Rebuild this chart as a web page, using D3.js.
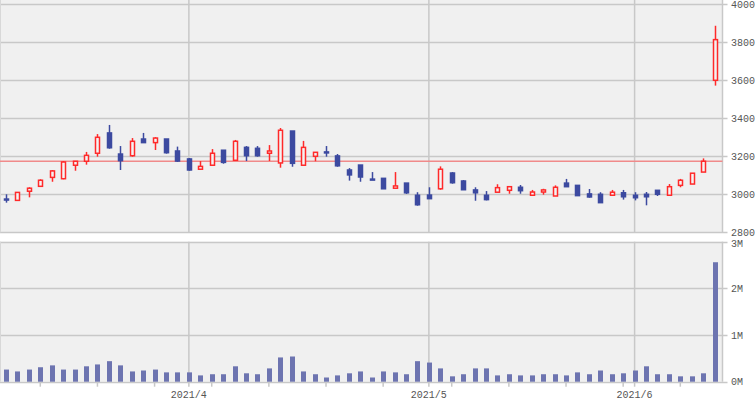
<!DOCTYPE html>
<html><head><meta charset="utf-8">
<script src="https://cdn.jsdelivr.net/npm/d3@7"></script>
<style>html,body{margin:0;padding:0;background:#fff;}svg{display:block;}</style>
</head><body><svg id="c" width="755" height="400"></svg>
<script>
const dates = ["2021-03-10","2021-03-11","2021-03-12","2021-03-15","2021-03-16","2021-03-17","2021-03-18","2021-03-19","2021-03-22","2021-03-23","2021-03-24","2021-03-25","2021-03-26","2021-03-29","2021-03-30","2021-03-31",
"2021-04-01","2021-04-02","2021-04-05","2021-04-06","2021-04-07","2021-04-08","2021-04-09","2021-04-12","2021-04-13","2021-04-14","2021-04-15","2021-04-16","2021-04-19","2021-04-20","2021-04-21","2021-04-22","2021-04-23","2021-04-26","2021-04-27","2021-04-28","2021-04-30",
"2021-05-06","2021-05-07","2021-05-10","2021-05-11","2021-05-12","2021-05-13","2021-05-14","2021-05-17","2021-05-18","2021-05-19","2021-05-20","2021-05-21","2021-05-24","2021-05-25","2021-05-26","2021-05-27","2021-05-28","2021-05-31",
"2021-06-01","2021-06-02","2021-06-03","2021-06-04","2021-06-07","2021-06-08","2021-06-09","2021-06-10"];
const open  = [2975,2968,3016,3042,3089,3082,3153,3174,3216,3323,3212,3203,3291,3272,3291,3228,3186,3132,3153,3232,3179,3247,3242,3216,3165,3333,3153,3200,3223,3202,3128,3154,3080,3084,3032,3059,2995,2996,3029,3112,3070,3023,2995,3011,3021,3037,2995,3012,2991,3059,3047,3002,3000,2995,3008,2995,3000,3021,2995,3047,3054,3117,3600];
const high  = [3000,3010,3037,3079,3128,3175,3175,3223,3317,3365,3254,3296,3323,3301,3291,3251,3191,3175,3238,3232,3286,3254,3254,3259,3349,3333,3281,3221,3254,3212,3138,3154,3117,3084,3117,3059,3011,3037,3147,3117,3075,3037,3017,3053,3040,3049,3023,3029,3047,3081,3047,3028,3011,3023,3023,3011,3012,3021,3054,3081,3111,3189,3887];
const low   = [2956,2968,2984,3042,3066,3079,3124,3156,3198,3240,3128,3198,3270,3233,3214,3170,3124,3132,3153,3161,3179,3175,3198,3175,3140,3145,3153,3174,3198,3145,3072,3066,3077,3029,3032,3002,2940,2977,3024,3056,3024,2966,2968,3011,3003,3003,2995,2998,2991,3040,2993,2982,2956,2995,2972,2968,2942,2991,2995,3037,3054,3117,3572];
const close = [2973,3010,3032,3074,3123,3170,3174,3205,3300,3245,3177,3279,3272,3296,3219,3175,3128,3147,3216,3168,3279,3203,3203,3228,3337,3163,3247,3221,3219,3150,3102,3091,3077,3029,3044,3008,2945,2977,3132,3061,3024,3008,2972,3035,3040,3019,3012,3023,3037,3040,2993,2986,2956,3011,2987,2982,2987,3000,3040,3074,3111,3174,3814];
const volume = [0.26,0.22,0.26,0.31,0.35,0.26,0.26,0.33,0.37,0.44,0.35,0.22,0.24,0.26,0.20,0.20,0.20,0.135,0.16,0.16,0.33,0.18,0.16,0.285,0.52,0.54,0.22,0.16,0.09,0.135,0.18,0.22,0.09,0.22,0.20,0.16,0.44,0.41,0.285,0.115,0.16,0.285,0.285,0.135,0.16,0.135,0.135,0.16,0.16,0.135,0.20,0.16,0.24,0.16,0.18,0.24,0.33,0.16,0.16,0.115,0.115,0.18,2.56].map(v => v * 1e6);
const refLine = 3174;
const priceTicks = [2800,3000,3200,3400,3600,3800,4000];
const volTicks = [0,1e6,2e6,3e6];
const volTickLabels = ["0M","1M","2M","3M"];
const monthTicks = ["2021-04-01","2021-05-06","2021-06-01"];
const monthLabels = ["2021/4","2021/5","2021/6"];
const weekTicks = ["2021-03-15","2021-03-22","2021-03-29","2021-04-05","2021-04-12","2021-04-19","2021-04-26","2021-05-10","2021-05-17","2021-05-24","2021-05-31","2021-06-07"];

const svg = d3.select("#c");
const L = 0, R = 722.5;
const pTop = 4.3, pBot = 232.3, vTop = 241.7, vBot = 381.7;
const x = d3.scalePoint().domain(dates).range([6, 714.6]);
const y = d3.scaleLinear().domain([2800, 4000]).range([pBot, pTop]);
const yv = d3.scaleLinear().domain([0, 3e6]).range([vBot, vTop]);
const grid = "#c8c8c8", txt = "#555";
const font = "'Liberation Mono', 'DejaVu Sans Mono', monospace";
const up = "#ff2a2a", down = "#3c4aa0", volC = "#6d74b0";

svg.append("rect").attr("x", L).attr("y", 0).attr("width", R - L).attr("height", pBot).attr("fill", "#f0f0f0");
svg.append("rect").attr("x", L).attr("y", vTop).attr("width", R - L).attr("height", vBot - vTop).attr("fill", "#f0f0f0");

const gp = svg.append("g");
gp.selectAll("line").data(priceTicks).join("line")
  .attr("x1", L).attr("x2", R + 5).attr("y1", d => Math.round(y(d)) + 0.5).attr("y2", d => Math.round(y(d)) + 0.5)
  .attr("stroke", grid).attr("stroke-width", 1.5);
gp.selectAll("text").data(priceTicks).join("text")
  .attr("x", 731).attr("y", d => y(d)).attr("dy", "0.35em")
  .attr("font-family", font).attr("font-size", 10).attr("fill", txt).text(d => d);

const gv = svg.append("g");
gv.selectAll("line").data(volTicks).join("line")
  .attr("x1", L).attr("x2", R + 5).attr("y1", d => Math.round(yv(d)) + 0.5).attr("y2", d => Math.round(yv(d)) + 0.5)
  .attr("stroke", grid).attr("stroke-width", 1.5);
gv.selectAll("text").data(volTicks).join("text")
  .attr("x", 731).attr("y", d => yv(d) + (d === 3e6 ? 1.5 : 0)).attr("dy", "0.35em")
  .attr("font-family", font).attr("font-size", 10).attr("fill", txt).text((d, i) => volTickLabels[i]);

[[0, pBot], [vTop, vBot]].forEach(([a, b]) => {
  svg.append("line").attr("x1", R).attr("x2", R).attr("y1", a).attr("y2", b).attr("stroke", grid).attr("stroke-width", 1.5);
  svg.append("line").attr("x1", L + 0.5).attr("x2", L + 0.5).attr("y1", a).attr("y2", b).attr("stroke", "#d8d8d8").attr("stroke-width", 1);
});

svg.append("g").selectAll("line").data(monthTicks).join("line")
  .attr("x1", d => x(d)).attr("x2", d => x(d)).attr("y1", 0).attr("y2", pBot)
  .attr("stroke", grid).attr("stroke-width", 1.5);
svg.append("g").selectAll("line").data(monthTicks).join("line")
  .attr("x1", d => x(d)).attr("x2", d => x(d)).attr("y1", vTop).attr("y2", vBot + 5)
  .attr("stroke", grid).attr("stroke-width", 1.5);
svg.append("g").selectAll("line").data(weekTicks).join("line")
  .attr("x1", d => x(d)).attr("x2", d => x(d)).attr("y1", vBot).attr("y2", vBot + 5)
  .attr("stroke", grid).attr("stroke-width", 1.5);
svg.append("g").selectAll("text").data(monthTicks).join("text")
  .attr("x", d => x(d)).attr("y", 394.5).attr("dy", "0.35em").attr("text-anchor", "middle")
  .attr("font-family", font).attr("font-size", 10).attr("fill", txt).text((d, i) => monthLabels[i]);

svg.append("line").attr("x1", L).attr("x2", R).attr("y1", y(refLine)).attr("y2", y(refLine))
  .attr("stroke", "#f08a8a").attr("stroke-width", 1.5);

const idx = d3.range(dates.length);
const cg = svg.append("g");
cg.selectAll("line").data(idx).join("line")
  .attr("x1", i => Math.round(x(dates[i])) + 0.5).attr("x2", i => Math.round(x(dates[i])) + 0.5)
  .attr("y1", i => y(high[i])).attr("y2", i => y(low[i]))
  .attr("stroke", i => close[i] >= open[i] ? up : down).attr("stroke-width", 1.5);
cg.selectAll("rect").data(idx).join("rect")
  .attr("x", i => Math.round(x(dates[i])) - 1.5)
  .attr("width", 4)
  .attr("y", i => y(Math.max(open[i], close[i])))
  .attr("height", i => Math.max(1, Math.abs(y(open[i]) - y(close[i]))))
  .attr("fill", i => close[i] >= open[i] ? "#f4f4f4" : down)
  .attr("stroke", i => close[i] >= open[i] ? up : down)
  .attr("stroke-width", 1.5);

svg.append("g").selectAll("rect").data(idx).join("rect")
  .attr("x", i => Math.round(x(dates[i])) - 2)
  .attr("width", 5)
  .attr("y", i => yv(volume[i]))
  .attr("height", i => vBot - yv(volume[i]))
  .attr("fill", volC);
</script></body></html>
